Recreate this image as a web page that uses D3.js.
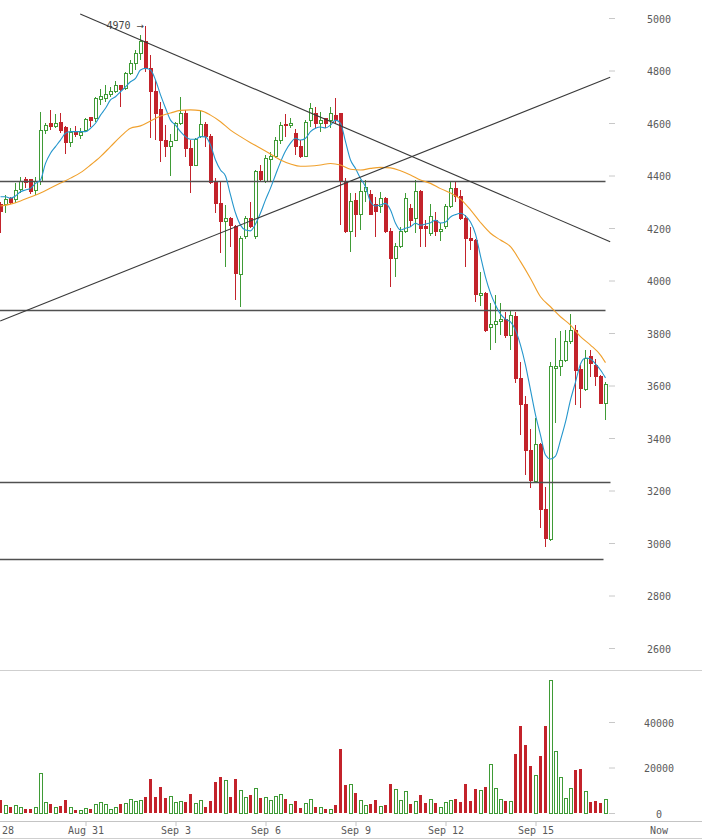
<!DOCTYPE html>
<html><head><meta charset="utf-8">
<script src="https://cdn.jsdelivr.net/npm/d3@7"></script>
<style>body{margin:0;background:#fff}svg{display:block}</style>
</head><body><svg id="c" width="702" height="839"></svg>
<script>
// 4-hour candles, index 0..121
const opens = [4290,4288,4312,4309,4347,4383,4383,4341,4377,4573,
4600,4586,4601,4582,4525,4567,4552,4570,4620,4618,
4688,4694,4707,4719,4741,4732,4787,4827,4865,4910,
4808,4719,4650,4535,4510,4535,4599,4637,4504,4440,
4548,4595,4548,4373,4295,4224,4238,4205,4021,4167,
4237,4167,4414,4377,4460,4472,4535,4595,4590,4560,
4510,4474,4611,4637,4599,4618,4611,4630,4637,4377,
4186,4304,4250,4338,4326,4288,4281,4313,4186,4085,
4129,4186,4275,4237,4338,4205,4180,4230,4186,4205,
4281,4351,4319,4237,4161,4152,3942,3949,3822,3834,
3842,3850,3792,3862,3627,3526,3352,3234,3377,3128,
3013,3666,3672,3697,3767,3811,3662,3583,3710,3678,
3634,3532];
const highs = [4300,4326,4320,4373,4395,4395,4386,4395,4643,4600,
4650,4634,4640,4590,4580,4590,4582,4620,4624,4700,
4728,4745,4736,4760,4745,4795,4840,4878,4935,4970,
4860,4764,4681,4592,4560,4605,4698,4650,4535,4542,
4650,4605,4560,4389,4376,4288,4243,4210,4170,4245,
4300,4420,4440,4480,4491,4545,4605,4634,4620,4578,
4535,4610,4675,4660,4643,4620,4660,4694,4640,4390,
4332,4332,4383,4383,4345,4319,4338,4320,4200,4142,
4205,4332,4290,4383,4345,4230,4290,4262,4220,4290,
4376,4376,4345,4250,4205,4160,4034,3955,3913,3945,
3913,3880,3888,3880,3691,3560,3436,3475,3380,3215,
3691,3780,3809,3810,3872,3830,3680,3735,3735,3700,
3640,3615];
const lows = [4180,4257,4290,4295,4333,4352,4330,4326,4364,4560,
4573,4580,4563,4482,4510,4548,4538,4565,4586,4605,
4669,4680,4700,4713,4662,4725,4783,4802,4840,4795,
4542,4535,4453,4472,4398,4530,4592,4472,4332,4435,
4543,4510,4368,4256,4105,4053,4129,3926,3900,4160,
4200,4160,4375,4370,4377,4465,4520,4548,4580,4480,
4465,4470,4586,4580,4567,4580,4580,4595,4211,4180,
4110,4167,4192,4300,4250,4167,4256,4180,3976,4015,
4125,4180,4205,4180,4129,4129,4170,4170,4150,4195,
4275,4300,4230,4053,4116,3919,3901,3805,3735,3761,
3792,3780,3735,3608,3411,3259,3208,3230,3056,2984,
3009,3457,3636,3690,3760,3526,3513,3580,3634,3600,
3530,3469];
const closes = [4262,4310,4296,4342,4379,4374,4338,4379,4573,4590,
4585,4599,4571,4525,4563,4555,4565,4615,4608,4694,
4700,4707,4720,4741,4728,4787,4827,4865,4910,4808,
4719,4637,4535,4510,4531,4599,4637,4504,4440,4537,
4595,4548,4373,4295,4224,4238,4211,4027,4161,4237,
4205,4414,4383,4466,4472,4535,4592,4590,4597,4510,
4472,4601,4656,4599,4611,4599,4637,4615,4377,4186,
4300,4250,4338,4355,4253,4262,4313,4186,4085,4129,
4186,4313,4230,4338,4199,4199,4243,4186,4195,4281,
4351,4319,4237,4161,4152,3945,3949,3811,3834,3843,
3852,3792,3865,3627,3526,3354,3240,3377,3128,3017,
3672,3672,3697,3767,3811,3659,3589,3704,3682,3634,
3532,3602];
const volumes = [5650,3480,2750,3480,2600,1740,1740,2600,17240,4640,
3900,2600,3040,5650,2600,1300,1160,2030,1740,3900,
4640,3900,1740,2600,3900,4200,5940,5220,5650,6960,
14780,6960,11300,6520,7390,4780,5220,4780,8260,4350,
5650,2600,5220,13480,15650,14350,6960,14780,10000,6960,
7820,10870,6520,6960,5650,7390,8260,6090,3900,5220,
2170,4350,6090,2600,2600,1740,1740,3480,28260,12170,
12600,8700,5650,3330,3900,5650,3040,3480,12600,10430,
5650,9560,3900,5220,7820,4350,6090,4350,2600,4780,
5650,6090,4780,12600,5220,10430,10000,11300,21160,10870,
6090,5220,5220,26080,38250,30000,20870,16520,25210,38250,
58250,26950,15500,6520,10870,18690,19560,9560,4780,5220,
4350,6090];
// fast moving average (blue), one value per candle
const fastMA = [4319,4319,4314,4322,4338,4345,4351,4370,4383,4446,
4485,4510,4535,4561,4567,4567,4567,4567,4580,4599,
4630,4656,4688,4700,4719,4738,4757,4770,4802,4808,
4802,4764,4707,4657,4611,4592,4567,4548,4538,4538,
4548,4547,4516,4459,4421,4398,4326,4257,4211,4192,
4189,4215,4257,4307,4352,4402,4451,4493,4523,4542,
4535,4542,4567,4580,4585,4581,4592,4611,4599,4529,
4459,4427,4389,4357,4300,4284,4288,4294,4269,4218,
4192,4199,4205,4218,4211,4215,4220,4230,4219,4223,
4242,4251,4256,4246,4223,4177,4093,4013,3952,3907,
3872,3853,3842,3811,3754,3678,3583,3488,3411,3335,
3320,3331,3392,3461,3545,3613,3682,3705,3701,3682,
3659,3629];
// slow moving average (orange), sampled every 2 candles
const slowMAIdx = [0,2,4,6,8,10,12,14,16,18,20,22,24,26,28,30,32,34,36,38,40,42,44,46,48,50,52,54,56,58,60,62,64,66,68,70,72,74,76,78,80,82,84,86,88,90,92,94,96,98,100,102,104,106,108,110,112,114,116,118,120,121];
const slowMA = [4284,4291,4303,4318,4333,4352,4371,4390,4411,4440,
4472,4510,4548,4580,4589,4608,4627,4638,4648,4650,
4647,4630,4605,4573,4548,4525,4504,4482,4459,4444,
4435,4436,4440,4446,4440,4424,4421,4427,4431,4429,
4418,4402,4383,4370,4350,4333,4310,4269,4221,4180,
4154,4129,4072,4008,3938,3900,3862,3830,3786,3754,
3716,3687];
// drawn support / resistance levels and trend lines
const levels = [4379, 3888, 3234, 2939];
const levelEnds = [121, 121, 122, 120.6];
const trendStarts = [[15.94, 5015], [-0.06, 3846]];
const trendEnds = [[121.94, 4148], [121.94, 4774]];
// axes
const priceTicks = [2600,2800,3000,3200,3400,3600,3800,4000,4200,4400,4600,4800,5000];
const volumeTicks = [0,20000,40000];
const dateTickIdx = [-1,17,35,53,71,89,107];
const dateTickLabels = ["Aug 28","Aug 31","Sep 3","Sep 6","Sep 9","Sep 12","Sep 15"];
const nowLabel = "Now";
const peakLabel = "4970";
const peakArrow = "\u2192";
const peakIdx = 29, peakValue = 4970;

const RED = "#c3232b", GREEN = "#3f9b36", BLUE = "#2496cc", ORANGE = "#f0a02c";
const FONT = "'DejaVu Sans Mono', monospace";

const svg = d3.select("#c");
const x = d3.scaleLinear().domain([0,121]).range([0.5,605.5]);
const y = d3.scaleLinear().domain([2600,5000]).range([648,18]);
const yv = d3.scaleLinear().domain([0,40000]).range([813,722]);

svg.append("rect").attr("width",702).attr("height",839).attr("fill","#fff");

// panel separators
[[670,"#cfcfcf"],[821,"#c4c4c4"],[838,"#cfcfcf"]].forEach(([yy,c])=>{
  svg.append("line").attr("x1",0).attr("x2",702).attr("y1",yy+0.5).attr("y2",yy+0.5)
    .attr("stroke",c).attr("stroke-width",1);
});

const idx = d3.range(opens.length);
const up = i => closes[i] >= opens[i];

// candles
const cg = svg.append("g").attr("shape-rendering","crispEdges");
cg.selectAll("line.wick").data(idx).join("line")
  .attr("x1",i=>x(i)).attr("x2",i=>x(i))
  .attr("y1",i=>y(highs[i])).attr("y2",i=>y(lows[i]))
  .attr("stroke",i=>up(i)?GREEN:RED).attr("stroke-width",1);
cg.selectAll("rect.body").data(idx).join("rect")
  .attr("x",i=>x(i)-1.5)
  .attr("width",3)
  .attr("y",i=>y(Math.max(opens[i],closes[i])))
  .attr("height",i=>Math.max(1.5,y(Math.min(opens[i],closes[i]))-y(Math.max(opens[i],closes[i]))))
  .attr("fill",i=>up(i)?"#fff":RED)
  .attr("stroke",i=>up(i)?GREEN:RED).attr("stroke-width",1);

// horizontal levels
svg.append("g").selectAll("line").data(levels).join("line")
  .attr("x1",0).attr("x2",(d,i)=>x(levelEnds[i]))
  .attr("y1",d=>Math.round(y(d))+0.5).attr("y2",d=>Math.round(y(d))+0.5)
  .attr("stroke","#505050").attr("stroke-width",1.4);

// moving averages
const fastLine = d3.line().x((d,i)=>x(i)).y(d=>y(d)).curve(d3.curveMonotoneX);
svg.append("path").attr("d",fastLine(fastMA)).attr("fill","none").attr("stroke",BLUE).attr("stroke-width",1.1);
const slowLine = d3.line().x((d,i)=>x(slowMAIdx[i])).y(d=>y(d)).curve(d3.curveMonotoneX);
svg.append("path").attr("d",slowLine(slowMA)).attr("fill","none").attr("stroke",ORANGE).attr("stroke-width",1.1);

// trend lines
svg.append("g").selectAll("line").data(trendStarts).join("line")
  .attr("x1",d=>x(d[0])).attr("y1",d=>y(d[1]))
  .attr("x2",(d,i)=>x(trendEnds[i][0])).attr("y2",(d,i)=>y(trendEnds[i][1]))
  .attr("stroke","#3a3a3a").attr("stroke-width",1.1);

// peak annotation
const pt = svg.append("text").attr("x",x(peakIdx)-39).attr("y",y(peakValue)+3)
  .attr("font-family",FONT).attr("font-size",10).attr("fill","#444");
pt.append("tspan").text(peakLabel + " ");
pt.append("tspan").attr("font-family","'DejaVu Sans', sans-serif").attr("font-size",9).text(peakArrow);

// volume bars
const vg = svg.append("g").attr("shape-rendering","crispEdges");
vg.selectAll("rect").data(idx).join("rect")
  .attr("x",i=>x(i)-1.5).attr("width",3)
  .attr("y",i=>yv(volumes[i])).attr("height",i=>yv(0)-yv(volumes[i]))
  .attr("fill",i=>up(i)?"#fff":RED)
  .attr("stroke",i=>up(i)?GREEN:"none").attr("stroke-width",1);

// price axis
function styleAxis(g){
  g.select(".domain").remove();
  g.selectAll(".tick line").attr("stroke","#c8c8c8");
  g.selectAll(".tick text").attr("x",50).attr("text-anchor","middle").attr("dy","0.4em")
    .attr("fill","#5a5a5a").attr("font-family",FONT).attr("font-size",10);
}
svg.append("g").attr("transform","translate(609,0)")
  .call(d3.axisRight(y).tickValues(priceTicks).tickSize(6).tickFormat(d3.format("d")))
  .call(styleAxis);
svg.append("g").attr("transform","translate(609,0)")
  .call(d3.axisRight(yv).tickValues(volumeTicks).tickSize(6).tickFormat(d3.format("d")))
  .call(styleAxis);

// date axis
const xg = svg.append("g").attr("transform","translate(0,821)")
  .call(d3.axisBottom(x).tickValues(dateTickIdx).tickSize(5).tickFormat((d,i)=>dateTickLabels[i]));
xg.select(".domain").remove();
xg.selectAll(".tick line").attr("stroke","#c4c4c4");
xg.selectAll(".tick text").attr("y",13).attr("dy",0)
  .attr("fill","#5a5a5a").attr("font-family",FONT).attr("font-size",10);
svg.append("text").attr("x",659).attr("y",834).attr("text-anchor","middle")
  .attr("fill","#5a5a5a").attr("font-family",FONT).attr("font-size",10).text(nowLabel);
</script></body></html>
